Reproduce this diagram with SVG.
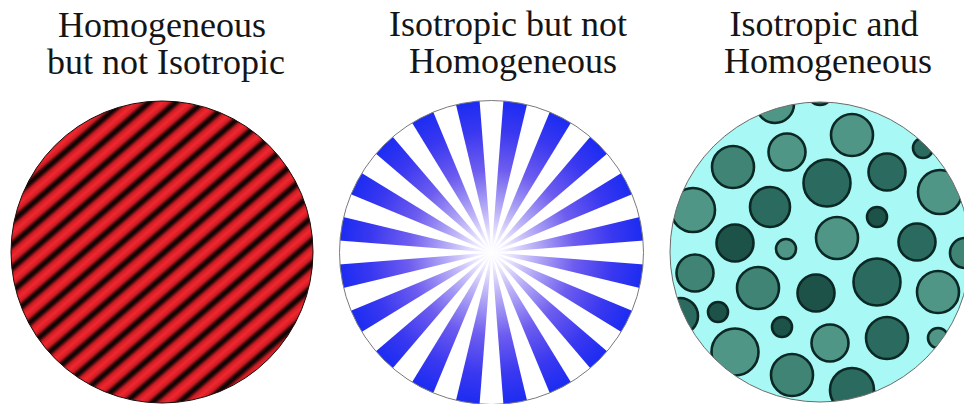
<svg xmlns="http://www.w3.org/2000/svg" xmlns:xlink="http://www.w3.org/1999/xlink" width="964" height="404" viewBox="0 0 964 404">
<style>
.t{font-family:"Liberation Serif","Times New Roman",serif;font-size:36px;fill:#151515;text-anchor:middle}
.d{stroke:#0b2824;stroke-width:2.6}
.l{fill:#4f9686}
.m{fill:#3f8474}
.k{fill:#2b6a5e}
.v{fill:#1d5249}
</style>
<defs>
<linearGradient id="stripe" x1="0" y1="0" x2="0" y2="1">
<stop offset="0" stop-color="#060202"/>
<stop offset="0.1" stop-color="#300909"/>
<stop offset="0.26" stop-color="#cc1b23"/>
<stop offset="0.5" stop-color="#f2272f"/>
<stop offset="0.74" stop-color="#cc1b23"/>
<stop offset="0.9" stop-color="#300909"/>
<stop offset="1" stop-color="#060202"/>
</linearGradient>
<pattern id="stripes" patternUnits="userSpaceOnUse" width="40" height="17.6" patternTransform="translate(100,215) rotate(-41)">
<rect x="0" y="0" width="40" height="17.6" fill="url(#stripe)"/>
</pattern>
<radialGradient id="ray" gradientUnits="userSpaceOnUse" cx="0" cy="0" r="152">
<stop offset="0" stop-color="#ffffff"/>
<stop offset="0.08" stop-color="#f4f2ff"/>
<stop offset="0.3" stop-color="#b4aaf6"/>
<stop offset="0.55" stop-color="#6d5cef"/>
<stop offset="0.8" stop-color="#3a38f0"/>
<stop offset="1" stop-color="#1c2cf2"/>
</radialGradient>
<clipPath id="c2"><circle cx="0" cy="0" r="152"/></clipPath>
<clipPath id="c3"><circle cx="820" cy="252" r="150"/></clipPath>
<path id="wedge" d="M0,0 L159.51,-12.55 L155.58,-37.35 Z" fill="url(#ray)"/>
</defs>
<rect width="964" height="404" fill="#ffffff"/>

<g id="label1">
<text class="t" x="162" y="37">Homogeneous</text>
<text class="t" x="166" y="74">but not Isotropic</text>
</g>
<g id="label2">
<text class="t" x="508" y="36">Isotropic but not</text>
<text class="t" x="513" y="73">Homogeneous</text>
</g>
<g id="label3">
<text class="t" x="824" y="36">Isotropic and</text>
<text class="t" x="828" y="73">Homogeneous</text>
</g>

<g id="disk1">
<circle cx="162" cy="252" r="151" fill="url(#stripes)"/>
<circle cx="162" cy="252" r="151" fill="none" stroke="#1a0a0a" stroke-width="1"/>
</g>

<g id="disk2" transform="translate(491.5,252.5)">
<circle cx="0" cy="0" r="152" fill="#ffffff"/>
<g clip-path="url(#c2)">
<use xlink:href="#wedge"/>
<use xlink:href="#wedge" transform="rotate(18)"/>
<use xlink:href="#wedge" transform="rotate(36)"/>
<use xlink:href="#wedge" transform="rotate(54)"/>
<use xlink:href="#wedge" transform="rotate(72)"/>
<use xlink:href="#wedge" transform="rotate(90)"/>
<use xlink:href="#wedge" transform="rotate(108)"/>
<use xlink:href="#wedge" transform="rotate(126)"/>
<use xlink:href="#wedge" transform="rotate(144)"/>
<use xlink:href="#wedge" transform="rotate(162)"/>
<use xlink:href="#wedge" transform="rotate(180)"/>
<use xlink:href="#wedge" transform="rotate(198)"/>
<use xlink:href="#wedge" transform="rotate(216)"/>
<use xlink:href="#wedge" transform="rotate(234)"/>
<use xlink:href="#wedge" transform="rotate(252)"/>
<use xlink:href="#wedge" transform="rotate(270)"/>
<use xlink:href="#wedge" transform="rotate(288)"/>
<use xlink:href="#wedge" transform="rotate(306)"/>
<use xlink:href="#wedge" transform="rotate(324)"/>
<use xlink:href="#wedge" transform="rotate(342)"/>
</g>
<circle cx="0" cy="0" r="152" fill="none" stroke="#7a7a7a" stroke-width="1"/>
</g>

<g id="disk3">
<circle cx="820" cy="252" r="150" fill="#a8f9f5"/>
<g clip-path="url(#c3)">
<circle class="d l" cx="775" cy="104" r="19"/>
<circle class="d k" cx="820" cy="92" r="13"/>
<circle class="d l" cx="852" cy="135" r="21"/>
<circle class="d l" cx="787" cy="152" r="18.5"/>
<circle class="d m" cx="733" cy="167" r="21"/>
<circle class="d k" cx="827" cy="183" r="23.5"/>
<circle class="d k" cx="887" cy="172" r="18.5"/>
<circle class="d k" cx="923" cy="148" r="10"/>
<circle class="d l" cx="940" cy="192" r="22"/>
<circle class="d k" cx="770" cy="207" r="20"/>
<circle class="d l" cx="693" cy="210" r="22"/>
<circle class="d v" cx="877" cy="217" r="10"/>
<circle class="d l" cx="837" cy="238" r="21"/>
<circle class="d v" cx="735" cy="243" r="18.5"/>
<circle class="d l" cx="786" cy="249" r="10"/>
<circle class="d k" cx="917" cy="242" r="18.5"/>
<circle class="d m" cx="965" cy="253" r="15"/>
<circle class="d m" cx="695" cy="273" r="18.5"/>
<circle class="d m" cx="758" cy="288" r="21"/>
<circle class="d v" cx="816" cy="293" r="18.5"/>
<circle class="d k" cx="877" cy="282" r="23.5"/>
<circle class="d l" cx="938" cy="292" r="21"/>
<circle class="d v" cx="718" cy="312" r="10"/>
<circle class="d k" cx="680" cy="316" r="18"/>
<circle class="d v" cx="782" cy="327" r="10"/>
<circle class="d l" cx="830" cy="343" r="18.5"/>
<circle class="d k" cx="887" cy="338" r="21"/>
<circle class="d l" cx="938" cy="338" r="10"/>
<circle class="d l" cx="735" cy="352" r="23.5"/>
<circle class="d m" cx="792" cy="375" r="21"/>
<circle class="d k" cx="852" cy="390" r="22"/>
<circle class="d k" cx="920" cy="385" r="15"/>
</g>
<circle cx="820" cy="252" r="150" fill="none" stroke="#6a6a6a" stroke-width="1"/>
</g>
</svg>
